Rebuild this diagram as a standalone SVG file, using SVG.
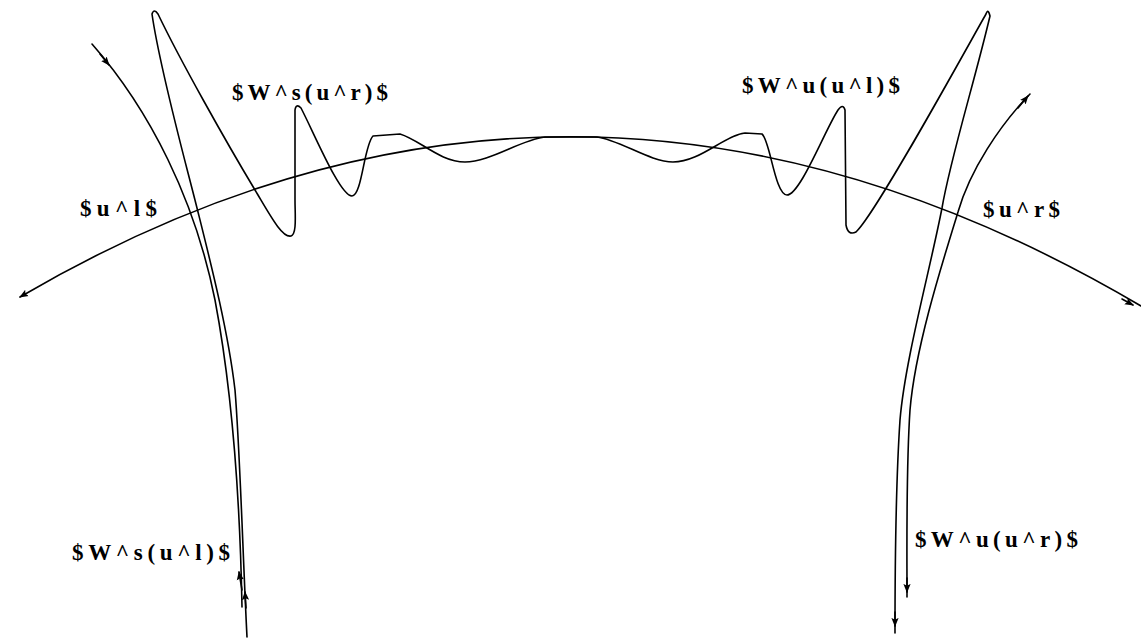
<svg xmlns="http://www.w3.org/2000/svg" width="1141" height="639" viewBox="0 0 1141 639">
<style>
.c{fill:none;stroke:#000;stroke-width:1.6;stroke-linejoin:round;stroke-linecap:round}
.t{font-family:"Liberation Serif","Times New Roman",serif;font-size:23px;font-weight:bold;fill:#000}
</style>
<defs>
<marker id="ah" viewBox="0 0 10 10" refX="9" refY="5" markerWidth="9" markerHeight="9" markerUnits="userSpaceOnUse" orient="auto-start-reverse">
<path d="M0,1 L10,5 L0,9 L2,5 Z" fill="#000"/>
</marker>
</defs>
<rect width="1141" height="639" fill="#fff"/>
<g id="connectors">
<path id="arc" class="c" d="M20,297 Q575,-28 1141,306" marker-start="url(#ah)"/>
<path class="c" d="M1122,299 L1133,305" marker-end="url(#ah)"/>
<path id="ws-ul" class="c" d="M92,44 C150,110 195,200 215,300 C232,390 240,500 242,607"/>
<path class="c" d="M100,54 L109,65" marker-end="url(#ah)"/>
<path class="c" d="M242,590 L239,572" marker-end="url(#ah)"/>
<path id="wu-ur" class="c" d="M1030,94 C1000,125 970,170 958,212 C940,270 915,350 910,410 C906,470 907,540 907,597"/>
<path class="c" d="M1018,108 L1028,96" marker-end="url(#ah)"/>
<path class="c" d="M907,578 L907,592" marker-end="url(#ah)"/>
<path id="tangle" class="c" d="M247,637 C243,560 240,450 235,390 C228,330 210,260 197,208 C185,160 160,70 152,14 Q154,8 158,14 C180,60 225,140 255,190 C270,215 282,238 291,236 C297,234 295,215 295,200 L295,110 Q296,103 301,108 C315,135 340,196 352,196 C362,196 364,145 373,136 L400,134 C420,140 440,162 465,162 C490,162 520,140 545,137 L597,137 C620,140 650,162 673,162 C700,162 725,135 745,133 L762,134 C770,140 775,195 787,195 C800,195 825,130 838,110 Q843,103 845,110 L846,225 Q848,236 856,232 C875,215 960,60 986,14 Q988,8 990,16 C975,80 950,160 942,208 C930,270 905,360 900,420 C896,480 895,560 895,633"/>
<path class="c" d="M895,612 L895,626" marker-end="url(#ah)"/>
<path class="c" d="M246,608 L245,592" marker-end="url(#ah)"/>
</g>
<g id="label-ws-ur"><text class="t" x="232" y="100" textLength="156" lengthAdjust="spacing">$W^s(u^r)$</text></g>
<g id="label-wu-ul"><text class="t" x="742" y="93" textLength="158" lengthAdjust="spacing">$W^u(u^l)$</text></g>
<g id="label-ul"><text class="t" x="80" y="216" textLength="77" lengthAdjust="spacing">$u^l$</text></g>
<g id="label-ur"><text class="t" x="983" y="217" textLength="77" lengthAdjust="spacing">$u^r$</text></g>
<g id="label-ws-ul"><text class="t" x="72" y="560" textLength="158" lengthAdjust="spacing">$W^s(u^l)$</text></g>
<g id="label-wu-ur"><text class="t" x="915" y="547" textLength="163" lengthAdjust="spacing">$W^u(u^r)$</text></g>
</svg>
